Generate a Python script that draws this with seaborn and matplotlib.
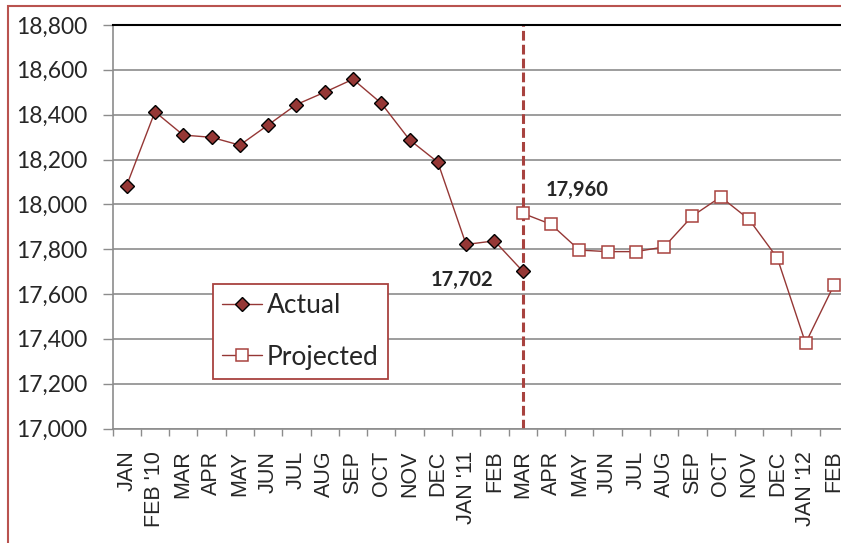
"""
Actual vs projected monthly series, Excel-style line chart.
"""

import matplotlib
matplotlib.use("Agg")
import matplotlib.pyplot as plt
import matplotlib.patches as patches
import seaborn as sns
import pandas as pd
import numpy as np

# categories along the x axis
months = ["JAN", "FEB '10", "MAR", "APR", "MAY", "JUN", "JUL", "AUG", "SEP",
          "OCT", "NOV", "DEC", "JAN '11", "FEB", "MAR", "APR", "MAY", "JUN",
          "JUL", "AUG", "SEP", "OCT", "NOV", "DEC", "JAN '12", "FEB"]

# actual values, JAN '10 .. MAR '11
actual = [18084, 18413, 18309, 18299, 18264, 18354, 18445, 18500, 18558,
          18451, 18288, 18188, 17821, 17837, 17702]

# projected values, MAR '11 .. FEB '12
projected = [17960, 17911, 17796, 17789, 17789, 17810, 17948, 18033, 17933,
             17761, 17381, 17639]

y_ticks = [17000, 17200, 17400, 17600, 17800, 18000, 18200, 18400, 18600, 18800]

split_idx = len(actual) - 1

df_act = pd.DataFrame({"x": np.arange(len(actual)), "value": actual})
df_proj = pd.DataFrame({"x": np.arange(split_idx, split_idx + len(projected)),
                        "value": projected})

sns.set_style("white")
plt.rcParams["font.family"] = ["Lato", "DejaVu Sans"]
plt.rcParams["lines.scale_dashes"] = False

dark_red = "#953735"
frame_red = "#A8423F"

W, H = 841, 543
fig = plt.figure(figsize=(W / 100, H / 100), dpi=100)
ax = fig.add_axes([112.5 / W, 1 - 428.5 / H, (848 - 112.5) / W, (428.5 - 25) / H])

# gridlines
for yv in y_ticks[:-1]:
    ax.axhline(yv, color="#8c8c8c", lw=1.2, zorder=0)

sns.lineplot(data=df_act, x="x", y="value", ax=ax, color=dark_red, lw=1.0,
             marker="D", markersize=7.6, markerfacecolor=dark_red,
             markeredgecolor="black", markeredgewidth=1.0, label="Actual",
             zorder=4)
sns.lineplot(data=df_proj, x="x", y="value", ax=ax, color=dark_red, lw=1.0,
             marker="s", markersize=8.8, markerfacecolor="white",
             markeredgecolor="#A8423F", markeredgewidth=1.1, label="Projected",
             zorder=3)

ax.axvline(split_idx, color=frame_red, lw=2.2, linestyle=(0, (7, 3)), zorder=2)

ax.set_xlim(-0.5, len(months) - 0.5)
ax.set_ylim(17000, 18800)

ax.set_xticks(np.arange(len(months)))
ax.set_xticklabels(months, rotation=90, fontsize=15.5, family="Liberation Sans")
ax.set_xticks(np.arange(-0.5, len(months)), minor=True)
ax.tick_params(axis="x", which="major", length=0, pad=16)
ax.tick_params(axis="x", which="minor", length=5, width=1, color="#8c8c8c",
               direction="out", bottom=True)

ax.set_yticks(y_ticks)
ax.set_yticklabels([f"{v:,}" for v in y_ticks], fontsize=16.5)
ax.tick_params(axis="y", length=7, width=1, color="#8c8c8c", direction="out",
               left=True, pad=11)

ax.set_xlabel("")
ax.set_ylabel("")

for side in ["left", "bottom"]:
    ax.spines[side].set_color("#8c8c8c")
    ax.spines[side].set_linewidth(1.2)
ax.spines["top"].set_color("black")
ax.spines["top"].set_linewidth(1.5)
ax.spines["right"].set_visible(False)

# value labels at the split point
ax.annotate(f"{actual[-1]:,}", xy=(split_idx, actual[-1]), xytext=(-44, -6.5),
            textcoords="offset points", ha="center", va="center",
            fontsize=14.5, fontweight="bold")
ax.annotate(f"{projected[0]:,}", xy=(split_idx, projected[0]), xytext=(39, 17),
            textcoords="offset points", ha="center", va="center",
            fontsize=14.5, fontweight="bold")

leg = ax.legend(loc="upper left", bbox_to_anchor=(212.7 / W, 1 - 284 / H),
                bbox_transform=fig.transFigure, borderaxespad=0, fontsize=19,
                frameon=True, fancybox=False, framealpha=1, handlelength=1.5,
                handletextpad=0.2, labelspacing=1.0, borderpad=0.35)
leg.get_frame().set_edgecolor(frame_red)
leg.get_frame().set_linewidth(1.3)

# chart area border, partly outside the picture
fig.add_artist(patches.Rectangle((7.5 / W, -0.1), 1.2, 1 - 5.5 / H + 0.1,
                                 transform=fig.transFigure, fill=False,
                                 edgecolor="#B9534F", lw=1.5))

fig.savefig("out.png", dpi=100)
